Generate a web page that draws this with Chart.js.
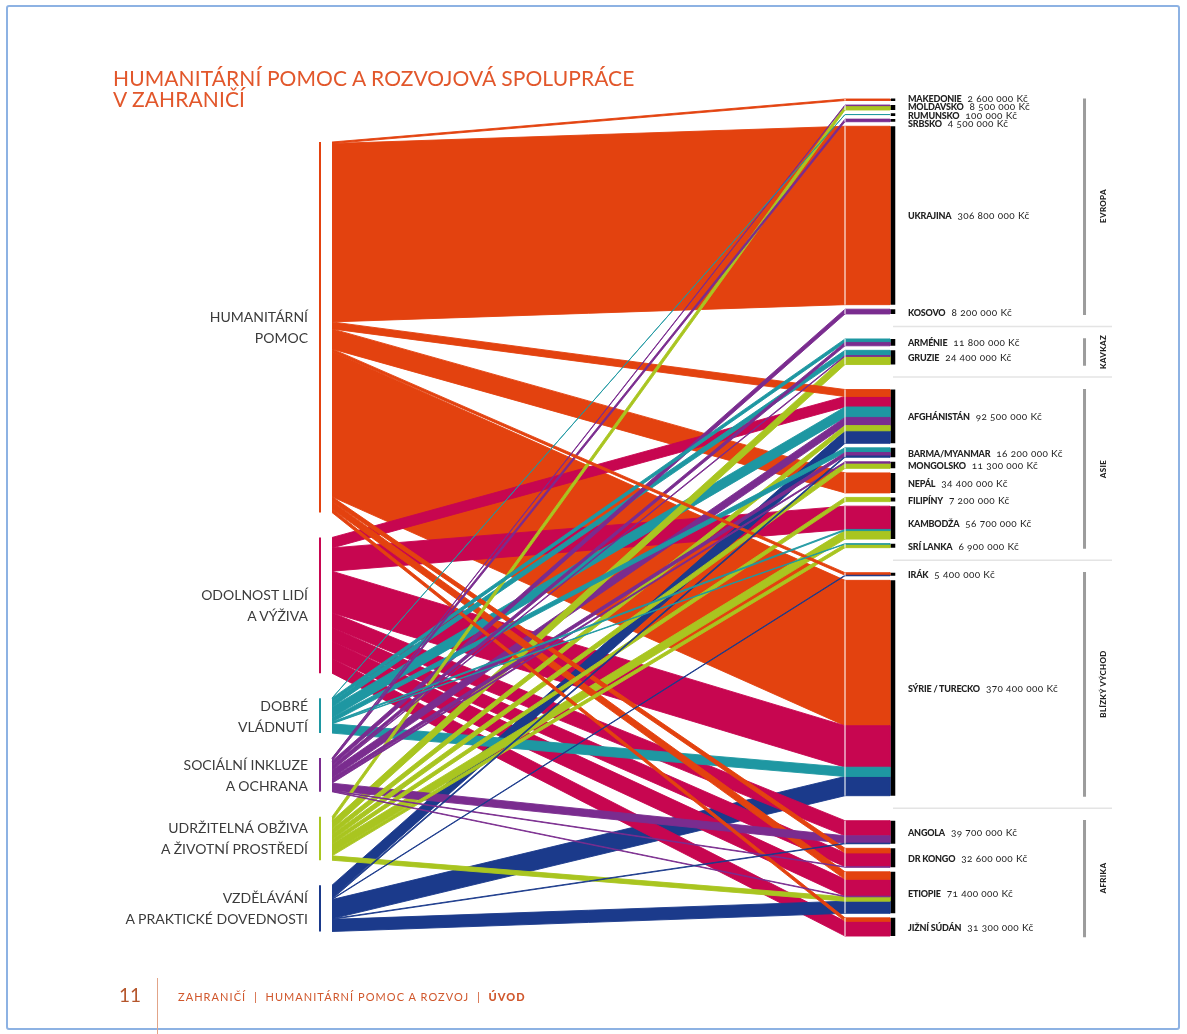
<!DOCTYPE html>
<html>
<head>
<meta charset="utf-8">
<script src="https://cdn.jsdelivr.net/npm/chart.js@4.4.0/dist/chart.umd.min.js"></script>
<style>
html,body{margin:0;padding:0;background:#fff;}
#wrap{position:relative;width:1187px;height:1034px;overflow:hidden;font-family:Lato,"Open Sans",sans-serif;}
#c{position:absolute;left:0;top:0;}
.frame{position:absolute;left:6px;top:5px;width:1174px;height:1025px;border:2px solid #8db2e3;border-radius:3px;box-sizing:border-box;}
.title{position:absolute;left:113px;top:67px;color:#E2572B;font-size:21px;line-height:21px;letter-spacing:0.1px;white-space:nowrap;}
.src{position:absolute;right:879px;text-align:right;font-size:14px;line-height:21px;color:#3b3b3b;transform:translateY(-50%);white-space:nowrap;}
.dst{position:absolute;left:908px;font-size:10px;line-height:9px;color:#222;white-space:nowrap;transform:translateY(-50%);font-variant-numeric:oldstyle-nums;}
.dst b{font-weight:900;font-size:9px;margin-right:6px;letter-spacing:-0.2px;}
.dst span{letter-spacing:0.35px;}
.reg{position:absolute;font-size:8px;font-weight:900;color:#222;transform:translate(-50%,-50%) rotate(-90deg);white-space:nowrap;letter-spacing:0.3px;}
.pg{position:absolute;left:119px;top:983px;font-size:19px;color:#B5562C;}
.vl{position:absolute;left:157px;top:978px;width:1px;height:56px;background:#E2A488;}
.ft{position:absolute;left:178px;top:990px;font-size:11px;color:#D0572C;letter-spacing:1.05px;white-space:nowrap;}
.ft b{font-weight:900;}
</style>
</head>
<body>
<div id="wrap">
  <canvas id="c" width="1187" height="1034"></canvas>
  <div class="frame"></div>
  <div class="title">HUMANITÁRNÍ POMOC A ROZVOJOVÁ SPOLUPRÁCE<br>V ZAHRANIČÍ</div>
  <div class="pg">11</div>
  <div class="vl"></div>
  <div class="ft">ZAHRANIČÍ &nbsp;|&nbsp; HUMANITÁRNÍ POMOC A ROZVOJ &nbsp;|&nbsp; <b>ÚVOD</b></div>
</div>
<script>
// ---------- DATA (mil. Kč) ----------
const countries = ['MAKEDONIE','MOLDAVSKO','RUMUNSKO','SRBSKO','UKRAJINA','KOSOVO',
  'ARMÉNIE','GRUZIE',
  'AFGHÁNISTÁN','BARMA/MYANMAR','MONGOLSKO','NEPÁL','FILIPÍNY','KAMBODŽA','SRÍ LANKA',
  'IRÁK','SÝRIE / TURECKO',
  'ANGOLA','DR KONGO','ETIOPIE','JIŽNÍ SÚDÁN'];
const countryTotals = [2.6,8.5,0.1,4.5,306.8,8.2, 11.8,24.4, 92.5,16.2,11.3,34.4,7.2,56.7,6.9, 5.4,370.4, 39.7,32.6,71.4,31.3];
const countryAmounts = ['2 600 000 Kč','8 500 000 Kč','100 000 Kč','4 500 000 Kč','306 800 000 Kč','8 200 000 Kč',
  '11 800 000 Kč','24 400 000 Kč',
  '92 500 000 Kč','16 200 000 Kč','11 300 000 Kč','34 400 000 Kč','7 200 000 Kč','56 700 000 Kč','6 900 000 Kč',
  '5 400 000 Kč','370 400 000 Kč',
  '39 700 000 Kč','32 600 000 Kč','71 400 000 Kč','31 300 000 Kč'];
const regions = ['EVROPA','KAVKAZ','ASIE','BLÍZKÝ VÝCHOD','AFRIKA'];
const regionSizes = [6,2,7,2,4];
const sources = [['HUMANITÁRNÍ','POMOC'],['ODOLNOST LIDÍ','A VÝŽIVA'],['DOBRÉ','VLÁDNUTÍ'],
  ['SOCIÁLNÍ INKLUZE','A OCHRANA'],['UDRŽITELNÁ OBŽIVA','A ŽIVOTNÍ PROSTŘEDÍ'],['VZDĚLÁVÁNÍ','A PRAKTICKÉ DOVEDNOSTI']];
// flows from each sector to each country (same order as countries)
const humanitarniPomoc = [2.6,0,0,0,306.8,0, 0,0, 12,0,0,34.4,0,0,0, 4.4,250, 0,8,13,6];
const odolnostVyziva   = [0,0,0,0,0,0, 0,0, 18,0,0,0,0,40,0, 0,71.4, 26,23.6,29,25.3];
const dobreVladnuti    = [0,0,0.1,0,0,0, 6,9, 18,8,0,0,0,2,1, 0,16, 0,0,0,0];
const socialniInkluze  = [0,1,0,4.5,0,8.2, 5.8,1.4, 14,6,2.3,0,0,0,0, 0,0, 12.7,1,1,0];
const udrzitelnaObziva = [0,7.5,0,0,0,0, 0,14, 9,0,9,0,7.2,14.7,5.9, 0,0, 0,0,7.5,0];
const vzdelavani       = [0,0,0,0,0,0, 0,0, 21.5,2.2,0,0,0,0,0, 1,33, 1,0,20.9,0];

// ---------- STYLE / LAYOUT ----------
const flowRows = [humanitarniPomoc, odolnostVyziva, dobreVladnuti, socialniInkluze, udrzitelnaObziva, vzdelavani];
const colors = ['#E3420F','#C70650','#1E97A2','#7A2C8F','#A9C520','#1B3A8B'];
const GAP = 7.8, RGAP = 43, LEFT_START = 74;
const X_LBAR = -0.0234, X_NODE = 1.0877, X_BLACK = 1.0936, X_REG = 1.4669, X_SEP0 = 1.0936, X_SEP1 = 1.5205;

const regionStart = [];
{ let k = 0; regionSizes.forEach(n => { regionStart.push(k); k += n; }); }
const rTop = [], rBot = [];
{ let y = 0;
  countries.forEach((c, i) => {
    if (i > 0) y += regionStart.includes(i) ? RGAP : GAP;
    rTop[i] = y; y += countryTotals[i]; rBot[i] = y;
  });
}
const lTop = [], lBot = [];
{ let y = LEFT_START;
  flowRows.forEach((row, s) => {
    if (s > 0) y += RGAP;
    lTop[s] = y; y += row.reduce((a, b) => a + b, 0); lBot[s] = y;
  });
}
const flows = [];
{ const lc = lTop.slice();
  flowRows.forEach((row, s) => row.forEach((v, t) => {
    if (v > 0) { flows.push({s, t, v, l0: lc[s], l1: lc[s] + v}); lc[s] += v; }
  }));
  const rc = rTop.slice();
  for (let t = 0; t < countries.length; t++) {
    flows.filter(f => f.t === t).sort((a, b) => a.s - b.s).forEach(f => { f.r0 = rc[t]; f.r1 = rc[t] + f.v; rc[t] += f.v; });
  }
}
const datasets = [];
function add(ds) { ds.order = -datasets.length; ds.pointRadius = 0; ds.tension = 0; datasets.push(ds); }

regions.forEach((r, i) => {
  const a = regionStart[i], b = a + regionSizes[i] - 1;
  add({data: [{x: X_REG, y: rTop[a] - 1}, {x: X_REG, y: rBot[b] + 2}], borderColor: '#9c9c9c', borderWidth: 3, fill: false});
  if (i > 0) {
    const mid = (rBot[a - 1] + rTop[a]) / 2;
    add({data: [{x: X_SEP0, y: mid}, {x: X_SEP1, y: mid}], borderColor: '#e4e4e4', borderWidth: 1.5, fill: false});
  }
});
flows.slice().sort((a, b) => b.v - a.v).forEach(f => {
  add({
    data: [{x: 0, y: f.l0}, {x: 1, y: f.r0}, {x: X_NODE, y: f.r0}, {x: X_NODE, y: f.r1}, {x: 1, y: f.r1}, {x: 0, y: f.l1}],
    borderColor: colors[f.s], backgroundColor: colors[f.s], borderWidth: 0.9, fill: 'shape'
  });
});
countries.forEach((c, i) => add({data: [{x: 1, y: rTop[i]}, {x: 1, y: rBot[i]}], borderColor: 'rgba(255,255,255,0.45)', borderWidth: 1, fill: false}));
countries.forEach((c, i) => {
  let a = rTop[i], b = rBot[i];
  if (b - a < 4) { const m = (a + b) / 2; a = m - 2.3; b = m + 2.3; }
  add({data: [{x: X_BLACK, y: a}, {x: X_BLACK, y: b}], borderColor: '#000', borderWidth: 4.5, fill: false});
});
flowRows.forEach((row, s) => add({data: [{x: X_LBAR, y: lTop[s]}, {x: X_LBAR, y: lBot[s]}], borderColor: colors[s], borderWidth: 2, fill: false}));

const chart = new Chart(document.getElementById('c'), {
  type: 'line',
  data: {datasets},
  options: {
    responsive: false, animation: false, events: [],
    layout: {padding: {left: 310.97, right: 67.03, top: 90, bottom: 89}},
    plugins: {legend: {display: false}, tooltip: {enabled: false}},
    scales: {
      x: {type: 'linear', min: -0.041, max: 1.536, display: false},
      y: {type: 'linear', min: -15.48, max: 1455.1, reverse: true, display: false}
    }
  }
});

// ---------- TEXT LABELS positioned through the scales ----------
const wrap = document.getElementById('wrap');
const ys = chart.scales.y;
sources.forEach((lines, s) => {
  const d = document.createElement('div');
  d.className = 'src';
  d.innerHTML = lines.join('<br>');
  d.style.top = ys.getPixelForValue((lTop[s] + lBot[s]) / 2) + 'px';
  wrap.appendChild(d);
});
const centres = countries.map((c, i) => ys.getPixelForValue((rTop[i] + rBot[i]) / 2));
const MIN_SP = 8.2;
for (let it = 0; it < 60; it++) {
  for (let i = 1; i < centres.length; i++) {
    const d = centres[i] - centres[i - 1];
    if (d < MIN_SP) { const p = (MIN_SP - d) / 2; centres[i - 1] -= p; centres[i] += p; }
  }
}
countries.forEach((c, i) => {
  const d = document.createElement('div');
  d.className = 'dst';
  d.innerHTML = '<b>' + c + '</b><span>' + countryAmounts[i] + '</span>';
  d.style.top = centres[i] + 'px';
  wrap.appendChild(d);
});
regions.forEach((r, i) => {
  const a = regionStart[i], b = a + regionSizes[i] - 1;
  const d = document.createElement('div');
  d.className = 'reg';
  d.textContent = r;
  d.style.left = (chart.scales.x.getPixelForValue(X_REG) + 18) + 'px';
  d.style.top = ys.getPixelForValue((rTop[a] + rBot[b]) / 2) + 'px';
  wrap.appendChild(d);
});
</script>
</body>
</html>
